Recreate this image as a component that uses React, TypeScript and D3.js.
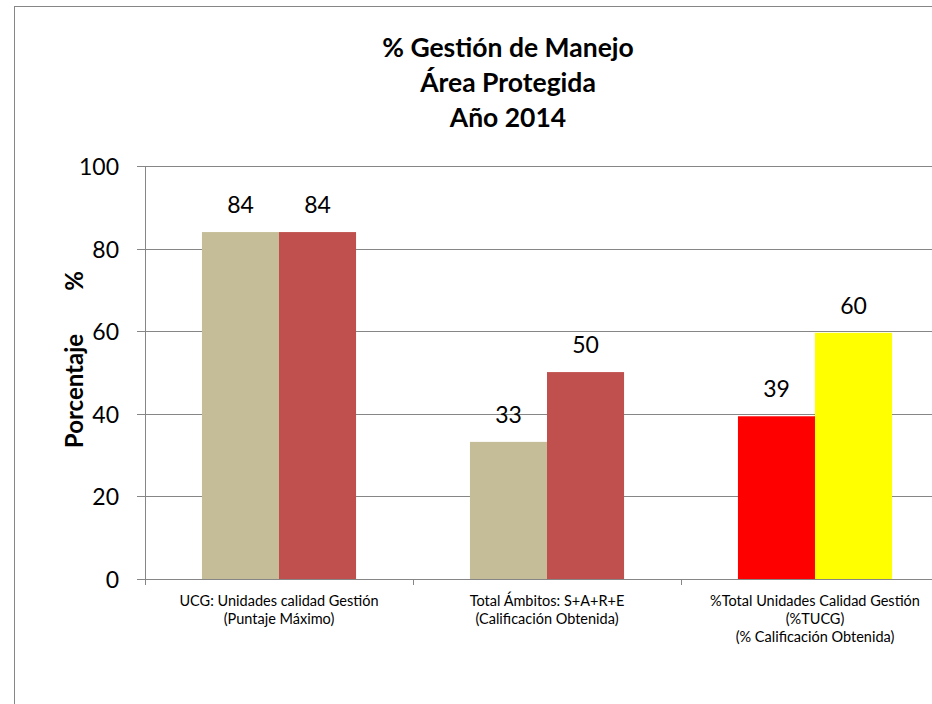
import React from "react";
import * as d3 from "d3";

const categories: string[][] = [
  ["UCG: Unidades calidad Gestión", "(Puntaje Máximo)"],
  ["Total Ámbitos: S+A+R+E", "(Calificación Obtenida)"],
  ["%Total Unidades Calidad Gestión", "(%TUCG)", "(% Calificación Obtenida)"],
];
const series1Values = [84, 33.2, 39.4];
const series2Values = [84, 50.1, 59.6];
const series1Colors = ["#C4BD97", "#C4BD97", "#FF0000"];
const series2Colors = ["#C0504D", "#C0504D", "#FFFF00"];
const yTicks = [0, 20, 40, 60, 80, 100];
const titleLines = ["% Gestión de Manejo", "Área Protegida", "Año 2014"];
const yTitleMain = "Porcentaje";
const yTitleUnit = "%";

const W = 932;
const H = 704;
const FONT = "Lato, 'Open Sans', sans-serif";

export default function App() {
  const plotLeft = 145;
  const plotRight = 949;
  const plotTop = 166;
  const plotBottom = 579;

  const x = d3
    .scaleBand<number>()
    .domain(categories.map((_, i) => i))
    .range([plotLeft, plotRight])
    .paddingInner(0.425)
    .paddingOuter(0.2125);
  const inner = d3.scaleBand<number>().domain([0, 1]).range([0, x.bandwidth()]);
  const y = d3.scaleLinear().domain([0, 100]).range([plotBottom, plotTop]);
  const fmt = d3.format(".0f");
  const step = x.step();
  const seriesList = [
    { values: series1Values, colors: series1Colors },
    { values: series2Values, colors: series2Colors },
  ];

  return (
    <svg
      width={W}
      height={H}
      style={{ position: "absolute", left: 0, top: 0, background: "#fff" }}
      fontFamily={FONT}
    >
      <rect x={14.5} y={6.5} width={W + 20} height={H + 20} fill="#fff" stroke="#868686" strokeWidth={1} />
      {titleLines.map((t, i) => (
        <text
          key={i}
          x={508}
          y={47 + i * 35}
          textAnchor="middle"
          dominantBaseline="central"
          fontWeight="bold"
          fontSize={26.5}
          fill="#000"
        >
          {t}
        </text>
      ))}
      {/* gridlines */}
      {yTicks.map((t) => (
        <line
          key={t}
          x1={plotLeft - 8}
          x2={plotRight}
          y1={Math.round(y(t)) + 0.5}
          y2={Math.round(y(t)) + 0.5}
          stroke="#868686"
          strokeWidth={1}
        />
      ))}
      {/* y axis */}
      <line x1={plotLeft + 0.5} x2={plotLeft + 0.5} y1={plotTop} y2={plotBottom + 6} stroke="#868686" />
      {categories.map((_, i) => {
        const tx = Math.round(plotLeft + step * (i + 1)) + 0.5;
        return <line key={i} x1={tx} x2={tx} y1={plotBottom} y2={plotBottom + 6} stroke="#868686" />;
      })}
      {yTicks.map((t) => (
        <text
          key={t}
          x={119}
          y={y(t)}
          textAnchor="end"
          dominantBaseline="central"
          fontSize={23}
          fill="#000"
        >
          {t}
        </text>
      ))}
      <g transform="translate(73,0) rotate(-90)" fontWeight="bold" fontSize={24} fill="#000">
        <text x={-391} y={0} textAnchor="middle" dominantBaseline="central">
          {yTitleMain}
        </text>
        <text x={-281} y={0} textAnchor="middle" dominantBaseline="central">
          {yTitleUnit}
        </text>
      </g>
      {/* bars */}
      {seriesList.map((s, si) =>
        s.values.map((v, ci) => {
          const bx = (x(ci) as number) + (inner(si) as number);
          return (
            <g key={`${si}-${ci}`}>
              <rect
                x={bx}
                y={y(v)}
                width={inner.bandwidth()}
                height={plotBottom - y(v)}
                fill={s.colors[ci]}
              />
              <text
                x={bx + inner.bandwidth() / 2}
                y={y(v) - 19}
                textAnchor="middle"
                fontSize={23}
                fill="#000"
              >
                {fmt(v)}
              </text>
            </g>
          );
        })
      )}
      {/* category labels */}
      {categories.map((lines, ci) =>
        lines.map((l, li) => (
          <text
            key={`${ci}-${li}`}
            x={(x(ci) as number) + x.bandwidth() / 2}
            y={600 + li * 18}
            textAnchor="middle"
            dominantBaseline="central"
            fontSize={14.5}
            fill="#000"
          >
            {l}
          </text>
        ))
      )}
    </svg>
  );
}
